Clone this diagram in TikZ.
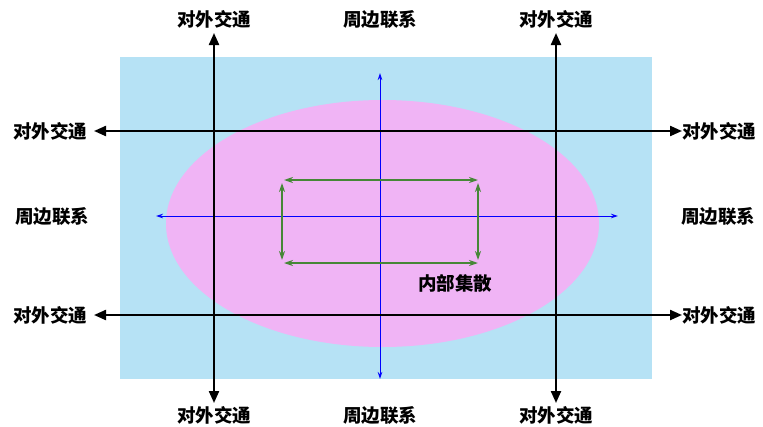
\documentclass[tikz,border=0pt]{standalone}
\usepackage{fontspec}
\newfontfamily\cjk{Noto Sans CJK SC}
\usetikzlibrary{arrows.meta}
\definecolor{bgblue}{RGB}{182,226,245}
\definecolor{pinkell}{RGB}{240,180,245}
\definecolor{gline}{RGB}{70,135,55}
\tikzset{
  lbl/.style={font=\cjk\bfseries\fontsize{18.5}{22}\selectfont, inner sep=0pt},
  mainarr/.style={draw=black, line width=2.2pt, {Triangle[length=12pt,width=10pt]}-{Triangle[length=12pt,width=10pt]}},
  bluearr/.style={draw=blue, line width=1pt, {Stealth[length=7pt,width=4.5pt]}-{Stealth[length=7pt,width=4.5pt]}},
  greenarr/.style={draw=gline, line width=1.6pt, {Stealth[length=9pt,width=6pt]}-{Stealth[length=9pt,width=6pt]}}
}
\begin{document}
\begin{tikzpicture}[x=1pt,y=-1pt]
\useasboundingbox (0,0) rectangle (763,426);
\fill[bgblue] (120,57) rectangle (652,379);
\fill[pinkell] (382.5,223.5) ellipse [x radius=216.5, y radius=123.5];
% coordinates
\coordinate (vt1) at (214,33); \coordinate (vb1) at (214,403);
\coordinate (vt2) at (556,33); \coordinate (vb2) at (556,403);
\coordinate (hl1) at (94,131); \coordinate (hr1) at (682,131);
\coordinate (hl2) at (94,315); \coordinate (hr2) at (682,315);
\coordinate (bt) at (380,73); \coordinate (bb) at (380,379);
\coordinate (bl) at (156,216); \coordinate (br) at (618,216);
\coordinate (gtl) at (284,180); \coordinate (gtr) at (478,180);
\coordinate (gbl) at (284,263); \coordinate (gbr) at (478,263);
\coordinate (glt) at (282,183); \coordinate (glb) at (282,260);
\coordinate (grt) at (478,183); \coordinate (grb) at (478,260);
% blue
\draw[bluearr] (bt) -- (bb);
\draw[bluearr] (bl) -- (br);
% green
\draw[greenarr] (gtl) -- (gtr);
\draw[greenarr] (gbl) -- (gbr);
\draw[greenarr] (glt) -- (glb);
\draw[greenarr] (grt) -- (grb);
% black
\draw[mainarr] (vt1) -- (vb1);
\draw[mainarr] (vt2) -- (vb2);
\draw[mainarr] (hl1) -- (hr1);
\draw[mainarr] (hl2) -- (hr2);
% labels
\node[lbl] (t1) at (214,19) {对外交通};
\node[lbl] (t2) at (556,19) {对外交通};
\node[lbl] (t3) at (380,19) {周边联系};
\node[lbl] (b1) at (214,415) {对外交通};
\node[lbl] (b2) at (556,415) {对外交通};
\node[lbl] (b3) at (380,415) {周边联系};
\node[lbl] (l1) at (50,131) {对外交通};
\node[lbl] (l2) at (52,216) {周边联系};
\node[lbl] (l3) at (50,315) {对外交通};
\node[lbl] (r1) at (719,131) {对外交通};
\node[lbl] (r2) at (718,216) {周边联系};
\node[lbl] (r3) at (719,315) {对外交通};
\node[lbl] (in) at (455,283) {内部集散};
\end{tikzpicture}
\end{document}
